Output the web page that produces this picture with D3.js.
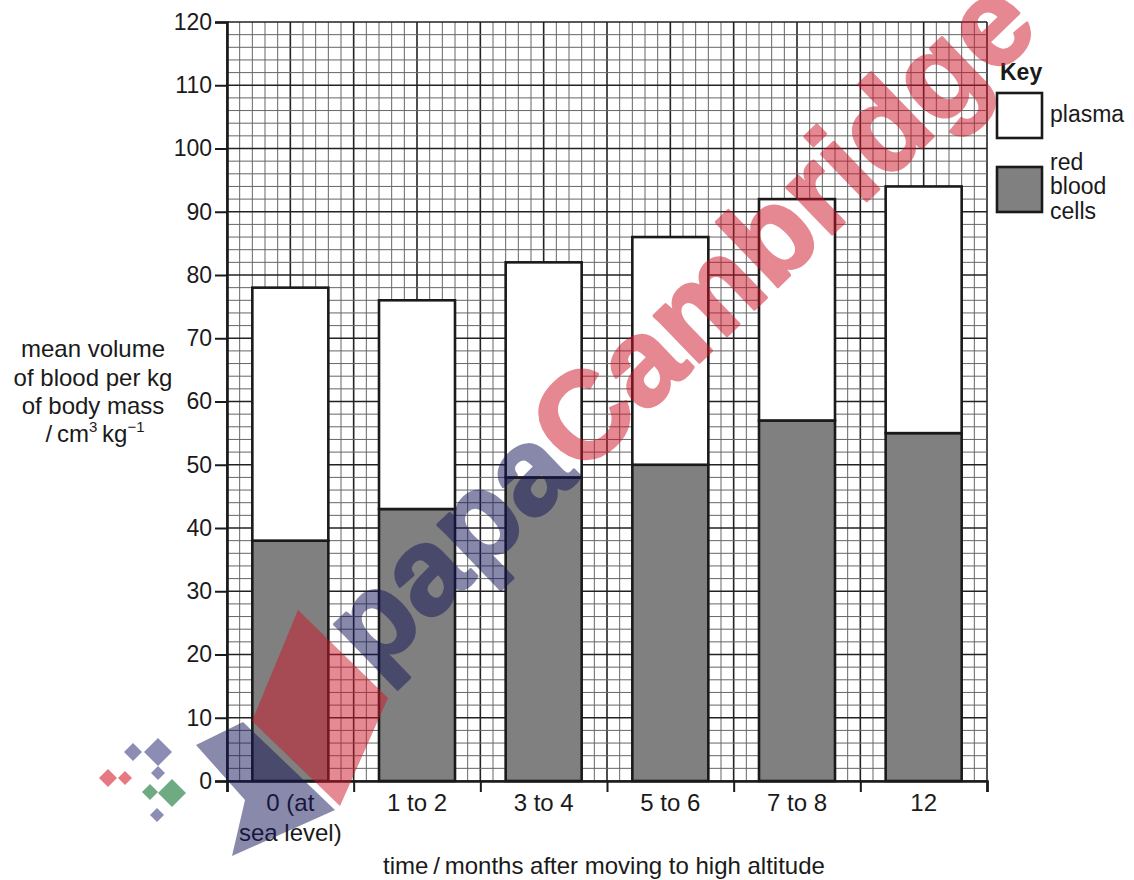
<!DOCTYPE html>
<html>
<head>
<meta charset="utf-8">
<script src="https://cdn.jsdelivr.net/npm/d3@7"></script>
<style>
  body { margin: 0; background: #fff; }
  text { font-family: "Liberation Sans", Arial, sans-serif; fill: #1a1a1a; }
</style>
</head>
<body>
<div id="chart"></div>
<script>
// data
var categories = ["0 (at\nsea level)", "1 to 2", "3 to 4", "5 to 6", "7 to 8", "12"];
var redCells = [38, 43, 48, 50, 57, 55];
var plasma = [40, 33, 34, 36, 35, 39];
var yTickValues = [0, 10, 20, 30, 40, 50, 60, 70, 80, 90, 100, 110, 120];
var seriesKeys = ["red", "plasma"];
var seriesFill = {red: "#808080", plasma: "#ffffff"};

var margin = {top: 22, right: 147, bottom: 99, left: 227},
    W = 1134, H = 880,
    width = W - margin.left - margin.right,
    height = H - margin.top - margin.bottom;

var svg = d3.select("#chart")
  .append("svg")
    .attr("width", W)
    .attr("height", H);

var g = svg.append("g")
    .attr("transform", "translate(" + margin.left + "," + margin.top + ")");

var x = d3.scaleBand()
  .domain(categories)
  .range([0, width])
  .paddingInner(0.4)
  .paddingOuter(0.2);

var y = d3.scaleLinear()
  .domain([0, 120])
  .range([height, 0]);

// graph paper: 10 small squares per category, one per 2 units up
var cells = d3.scaleLinear().domain([0, categories.length * 10]).range([0, width]);

g.append("g").selectAll("line")
  .data(d3.range(0, categories.length * 10 + 1))
  .enter().append("line")
    .attr("x1", function(d) { return cells(d); })
    .attr("x2", function(d) { return cells(d); })
    .attr("y1", 0)
    .attr("y2", height)
    .attr("stroke", function(d) { return d % 5 == 0 ? "#222" : "#666"; })
    .attr("stroke-width", function(d) { return d % 5 == 0 ? 1.6 : 1; });

g.append("g").selectAll("line")
  .data(d3.range(0, 121, 2))
  .enter().append("line")
    .attr("x1", 0)
    .attr("x2", width)
    .attr("y1", function(d) { return y(d); })
    .attr("y2", function(d) { return y(d); })
    .attr("stroke", function(d) { return d % 10 == 0 ? "#222" : "#666"; })
    .attr("stroke-width", function(d) { return d % 10 == 0 ? 1.6 : 1; });

// stacked bars
var table = categories.map(function(c, i) { return {cat: c, red: redCells[i], plasma: plasma[i]}; });
var stacked = d3.stack().keys(seriesKeys)(table);

g.append("g").selectAll("g")
  .data(stacked)
  .enter().append("g")
    .attr("fill", function(d) { return seriesFill[d.key]; })
  .selectAll("rect")
  .data(function(d) { return d; })
  .enter().append("rect")
    .attr("x", function(d) { return x(d.data.cat); })
    .attr("y", function(d) { return y(d[1]); })
    .attr("width", x.bandwidth())
    .attr("height", function(d) { return y(d[0]) - y(d[1]); })
    .attr("stroke", "#1a1a1a")
    .attr("stroke-width", 2.6);

// y axis
var yAxis = g.append("g")
  .call(d3.axisLeft(y).tickValues(yTickValues).tickSize(12).tickPadding(3));
yAxis.select(".domain").attr("stroke", "#1a1a1a").attr("stroke-width", 2.6);
yAxis.selectAll(".tick line").attr("stroke", "#1a1a1a").attr("stroke-width", 2);
yAxis.selectAll(".tick text")
  .style("font-size", "23px")
  .style("font-family", "Liberation Sans, Arial, sans-serif")
  .attr("fill", "#1a1a1a");

// x axis: ticks at the category edges, labels in the middle
var xEdges = d3.scaleLinear().domain([0, categories.length]).range([0, width]);
var xAxis = g.append("g")
  .attr("transform", "translate(0," + height + ")")
  .call(d3.axisBottom(xEdges).ticks(categories.length).tickSize(11).tickFormat(""));
xAxis.select(".domain").attr("stroke", "#1a1a1a").attr("stroke-width", 2.6);
xAxis.selectAll(".tick line").attr("stroke", "#1a1a1a").attr("stroke-width", 2);

var xLabels = g.append("g")
  .attr("transform", "translate(0," + height + ")")
  .call(d3.axisBottom(x).tickSize(0).tickFormat(""));
xLabels.select(".domain").remove();
xLabels.selectAll(".tick").append("text")
  .attr("text-anchor", "middle")
  .style("font-size", "24px")
  .selectAll("tspan")
  .data(function(d) { return d.split("\n"); })
  .enter().append("tspan")
    .attr("x", 0)
    .attr("y", function(d, i) { return 30 + i * 30; })
    .text(function(d) { return d; });

// x axis title
svg.append("text")
  .attr("x", 604)
  .attr("y", 874)
  .attr("text-anchor", "middle")
  .style("font-size", "24px")
  .text("time\u2009/\u2009months after moving to high altitude");

// y axis title
var yTitle = svg.append("text")
  .attr("text-anchor", "middle")
  .style("font-size", "24px");
["mean volume", "of blood per kg", "of body mass"].forEach(function(t, i) {
  yTitle.append("tspan").attr("x", 93).attr("y", 357 + i * 28.5).text(t);
});
var unitLine = svg.append("text")
  .attr("text-anchor", "middle")
  .attr("x", 95)
  .attr("y", 442)
  .style("font-size", "24px");
unitLine.append("tspan").text("/\u2009cm");
unitLine.append("tspan").attr("dy", -10).style("font-size", "15px").text("3");
unitLine.append("tspan").attr("dy", 10).text("\u2009kg");
unitLine.append("tspan").attr("dy", -10).style("font-size", "15px").text("\u22121");

// key
var key = svg.append("g").attr("transform", "translate(997,0)");
key.append("text")
  .attr("x", 3).attr("y", 80)
  .style("font-size", "23px")
  .style("font-weight", "bold")
  .text("Key");
var keyItems = [
  {key: "plasma", lines: ["plasma"], top: 93},
  {key: "red", lines: ["red", "blood", "cells"], top: 167}
];
keyItems.forEach(function(k) {
  key.append("rect")
    .attr("x", 0).attr("y", k.top)
    .attr("width", 45).attr("height", 45)
    .attr("fill", seriesFill[k.key])
    .attr("stroke", "#1a1a1a")
    .attr("stroke-width", 2.6);
  var t = key.append("text").style("font-size", "23px");
  var first = k.lines.length == 1 ? k.top + 29 : k.top + 3;
  k.lines.forEach(function(l, i) {
    t.append("tspan").attr("x", 53).attr("y", first + i * 24.3).text(l);
  });
});

// watermark on top of the chart
var wm = svg.append("g").style("pointer-events", "none");
var diamonds = [
  {cx: 133, cy: 752, r: 9, c: "#8c8cb4"},
  {cx: 158, cy: 752, r: 14, c: "#8c8cb4"},
  {cx: 158, cy: 773, r: 7, c: "#8c8cb4"},
  {cx: 157, cy: 815, r: 7, c: "#8c8cb4"},
  {cx: 108, cy: 778, r: 9, c: "#e67882"},
  {cx: 125, cy: 778, r: 7, c: "#e67882"},
  {cx: 150, cy: 792, r: 8, c: "#6eaa82"},
  {cx: 172, cy: 793, r: 14, c: "#6eaa82"}
];
wm.selectAll("path.dia")
  .data(diamonds)
  .enter().append("path")
    .attr("class", "dia")
    .attr("d", function(d) {
      return "M" + d.cx + "," + (d.cy - d.r) + "L" + (d.cx + d.r) + "," + d.cy +
             "L" + d.cx + "," + (d.cy + d.r) + "L" + (d.cx - d.r) + "," + d.cy + "Z";
    })
    .attr("fill", function(d) { return d.c; });

wm.append("path")
  .attr("d", "M196,745L243,722L335,810L232,856L245,800Z")
  .attr("fill", "#14145a")
  .attr("opacity", 0.5);
wm.append("path")
  .attr("d", "M298,610L388,698L340,806L252,721Z")
  .attr("fill", "#cc1428")
  .attr("opacity", 0.5);

// one layer per word so the thickening stroke does not double the tint
[{word: 0, c: "#14145a"}, {word: 1, c: "#cc1428"}].forEach(function(layer) {
  var t = wm.append("g").attr("opacity", 0.5)
    .append("text")
      .attr("transform", "translate(708,354) rotate(-44)")
      .attr("text-anchor", "middle")
      .style("font-size", "123px")
      .style("font-weight", "bold")
      .style("font-family", "Liberation Sans, Arial, sans-serif")
      .style("stroke-width", 3)
      .style("stroke-linejoin", "round");
  ["papa", "Cambridge"].forEach(function(w, i) {
    var col = i == layer.word ? layer.c : "none";
    t.append("tspan").style("fill", col).style("stroke", col).text(w);
  });
});
</script>
</body>
</html>
